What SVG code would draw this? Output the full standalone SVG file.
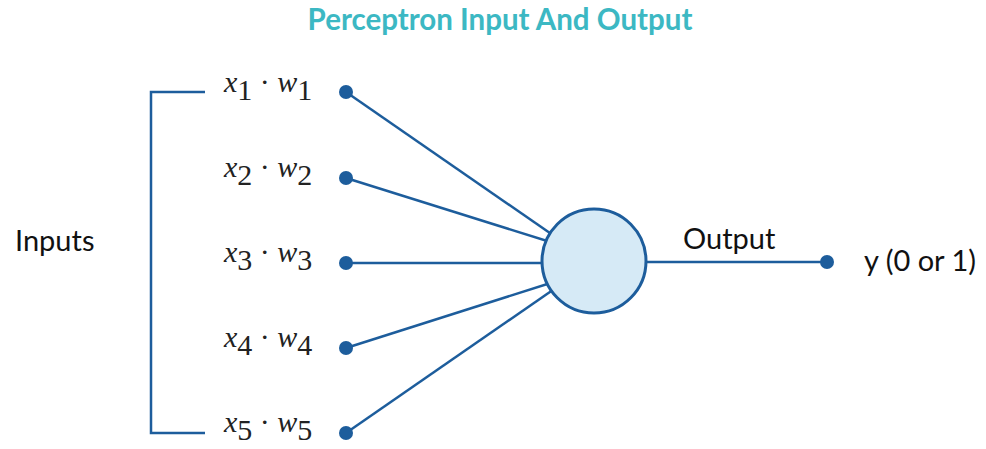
<svg xmlns="http://www.w3.org/2000/svg" width="986" height="449" viewBox="0 0 986 449">
<style>
.ln{stroke:#1d5d9c;stroke-width:2.5;fill:none}
.dot{fill:#1d5d9c}
.lbl{font-family:"Liberation Serif",serif;font-size:30px;fill:#222}
.lbl .v{font-style:italic}
.sans{font-family:Lato,"Liberation Sans",sans-serif;font-size:29px;fill:#111}
.title{font-family:Lato,"Liberation Sans",sans-serif;font-size:29.5px;font-weight:bold;fill:#3cb8c3}
</style>
<rect width="986" height="449" fill="#fff"/>
<text class="title" x="500" y="30" text-anchor="middle">Perceptron Input And Output</text>
<g id="bracket"><path class="ln" d="M205,92 H151 V433 H205" stroke-width="3"/></g>
<g id="connectors">
<line class="ln" x1="346" y1="92" x2="560" y2="240"/>
<line class="ln" x1="346" y1="178" x2="560" y2="245"/>
<line class="ln" x1="346" y1="263" x2="560" y2="263"/>
<line class="ln" x1="346" y1="348" x2="560" y2="280"/>
<line class="ln" x1="346" y1="433" x2="560" y2="285"/>
<line class="ln" x1="620" y1="262" x2="827" y2="262"/>
</g>
<g id="in1"><circle class="dot" cx="346" cy="92" r="7"/><text class="lbl" x="224" y="92"><tspan class="v">x</tspan><tspan dy="8">1</tspan><tspan dy="-8"> · </tspan><tspan class="v">w</tspan><tspan dy="8">1</tspan></text></g>
<g id="in2"><circle class="dot" cx="346" cy="178" r="7"/><text class="lbl" x="224" y="177"><tspan class="v">x</tspan><tspan dy="8">2</tspan><tspan dy="-8"> · </tspan><tspan class="v">w</tspan><tspan dy="8">2</tspan></text></g>
<g id="in3"><circle class="dot" cx="346" cy="263" r="7"/><text class="lbl" x="224" y="262"><tspan class="v">x</tspan><tspan dy="8">3</tspan><tspan dy="-8"> · </tspan><tspan class="v">w</tspan><tspan dy="8">3</tspan></text></g>
<g id="in4"><circle class="dot" cx="346" cy="348" r="7"/><text class="lbl" x="224" y="347"><tspan class="v">x</tspan><tspan dy="8">4</tspan><tspan dy="-8"> · </tspan><tspan class="v">w</tspan><tspan dy="8">4</tspan></text></g>
<g id="in5"><circle class="dot" cx="346" cy="433" r="7"/><text class="lbl" x="224" y="432"><tspan class="v">x</tspan><tspan dy="8">5</tspan><tspan dy="-8"> · </tspan><tspan class="v">w</tspan><tspan dy="8">5</tspan></text></g>
<g id="neuron"><circle cx="594" cy="261" r="52" fill="#d6eaf6" stroke="#1d5d9c" stroke-width="3"/></g>
<g id="out"><circle class="dot" cx="827" cy="262" r="7"/><text class="sans" x="864" y="271">y (0 or 1)</text></g>
<text class="sans" x="683" y="249">Output</text>
<text class="sans" x="15" y="251">Inputs</text>
</svg>
